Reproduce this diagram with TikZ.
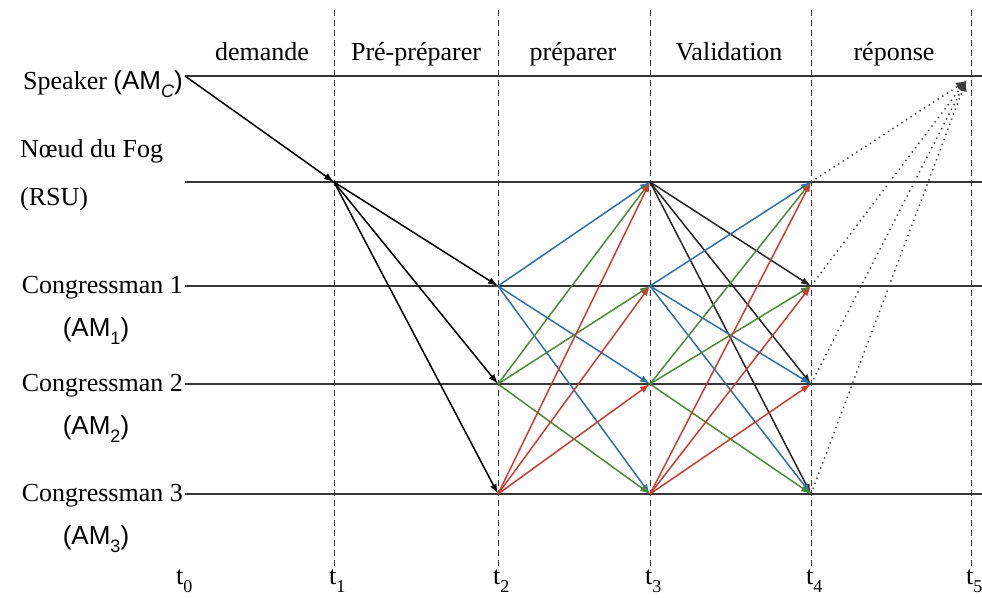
\documentclass[tikz,border=0pt]{standalone}
\usepackage{fontspec}
\setmainfont{Liberation Serif}
\newfontfamily\arialfont{Liberation Sans}
\usetikzlibrary{arrows.meta}

\definecolor{msgblue}{RGB}{50,112,170}
\definecolor{msggreen}{RGB}{78,138,58}
\definecolor{msgred}{RGB}{200,62,50}
\definecolor{lanegray}{RGB}{55,55,55}

% sans "(AM_x)" tag with a lowered subscript
\newcommand{\amtag}[1]{{\arialfont (AM\raisebox{-8pt}{\fontsize{18}{18}\selectfont #1})}}
% time mark t_x
\newcommand{\tmark}[1]{t\raisebox{-8pt}{\fontsize{18}{18}\selectfont #1}}

\begin{document}
\begin{tikzpicture}[x=1pt,y=-1pt,
  lane/.style={line width=2pt, draw=lanegray},
  epoch/.style={line width=1pt, dash pattern=on 6pt off 4pt, draw=black!80},
  msg/.style={line width=1.5pt, -{Latex[length=10pt,width=7pt]}},
  reply/.style={line width=1.4pt, draw=black!75, dash pattern=on 1.4pt off 4pt, -{Latex[length=10pt,width=9pt]}},
  lbl/.style={font=\fontsize{26}{30}\selectfont, inner sep=0pt}]

\useasboundingbox (0,0) rectangle (982,597);

% lane / epoch grid points
\foreach \ln/\yy in {spk/76, fog/182, cm1/286, cm2/384, cm3/494}{
  \coordinate (\ln-0) at (185,\yy);
  \coordinate (\ln-e) at (982,\yy);
  \foreach \i/\xx in {1/334, 2/498, 3/650, 4/811, 5/971}{
    \coordinate (\ln-\i) at (\xx,\yy);
  }
}
\foreach \i/\xx in {1/334, 2/498, 3/650, 4/811, 5/971}{
  \coordinate (top-\i) at (\xx,10);
  \coordinate (bot-\i) at (\xx,570);
}
\coordinate (spk-in) at (966,81);

% epoch separators
\foreach \i in {1,...,5}{
  \draw[epoch] (top-\i) -- (bot-\i);
}

% lanes
\foreach \ln in {spk, fog, cm1, cm2, cm3}{
  \draw[lane] (\ln-0) -- (\ln-e);
}

% phase titles
\node[lbl, anchor=base] (ph1) at (262,60) {demande};
\node[lbl, anchor=base] (ph2) at (416,60) {Pré-préparer};
\node[lbl, anchor=base] (ph3) at (573,60) {préparer};
\node[lbl, anchor=base] (ph4) at (729,60) {Validation};
\node[lbl, anchor=base] (ph5) at (894,60) {réponse};

% participants
\node[lbl, anchor=base east] (speaker) at (183,89) {Speaker \amtag{\itshape C}};
\node[lbl, anchor=base west] (fogname) at (20,157) {Nœud du Fog};
\node[lbl, anchor=base west] (fogtag) at (20,205) {(RSU)};
\node[lbl, anchor=base east] (c1name) at (183,293) {Congressman 1};
\node[lbl, anchor=base] (c1tag) at (96,336) {\amtag{1}};
\node[lbl, anchor=base east] (c2name) at (183,391) {Congressman 2};
\node[lbl, anchor=base] (c2tag) at (96,434) {\amtag{2}};
\node[lbl, anchor=base east] (c3name) at (183,501) {Congressman 3};
\node[lbl, anchor=base] (c3tag) at (96,544) {\amtag{3}};

% time marks
\node[lbl, anchor=base west] (tm0) at (176,584) {\tmark{0}};
\foreach \i/\xx in {1/329, 2/493, 3/645, 4/806, 5/966}{
  \node[lbl, anchor=base west] (tm\i) at (\xx,584) {\tmark{\i}};
}

% request
\draw[msg] (spk-0) -- (fog-1);
% pre-prepare
\foreach \c in {cm1, cm2, cm3}{
  \draw[msg] (fog-1) -- (\c-2);
}
% prepare
\foreach \c in {fog, cm2, cm3}{ \draw[msg, msgblue]  (cm1-2) -- (\c-3); }
\foreach \c in {fog, cm1, cm3}{ \draw[msg, msggreen] (cm2-2) -- (\c-3); }
\foreach \c in {fog, cm1, cm2}{ \draw[msg, msgred]   (cm3-2) -- (\c-3); }
% validation
\foreach \c in {cm1, cm2, cm3}{ \draw[msg, black!85] (fog-3) -- (\c-4); }
\foreach \c in {fog, cm2, cm3}{ \draw[msg, msgblue]  (cm1-3) -- (\c-4); }
\foreach \c in {fog, cm1, cm3}{ \draw[msg, msggreen] (cm2-3) -- (\c-4); }
\foreach \c in {fog, cm1, cm2}{ \draw[msg, msgred]   (cm3-3) -- (\c-4); }
% reply
\foreach \c in {fog, cm1, cm2, cm3}{
  \draw[reply] (\c-4) -- (spk-in);
}
\end{tikzpicture}
\end{document}
